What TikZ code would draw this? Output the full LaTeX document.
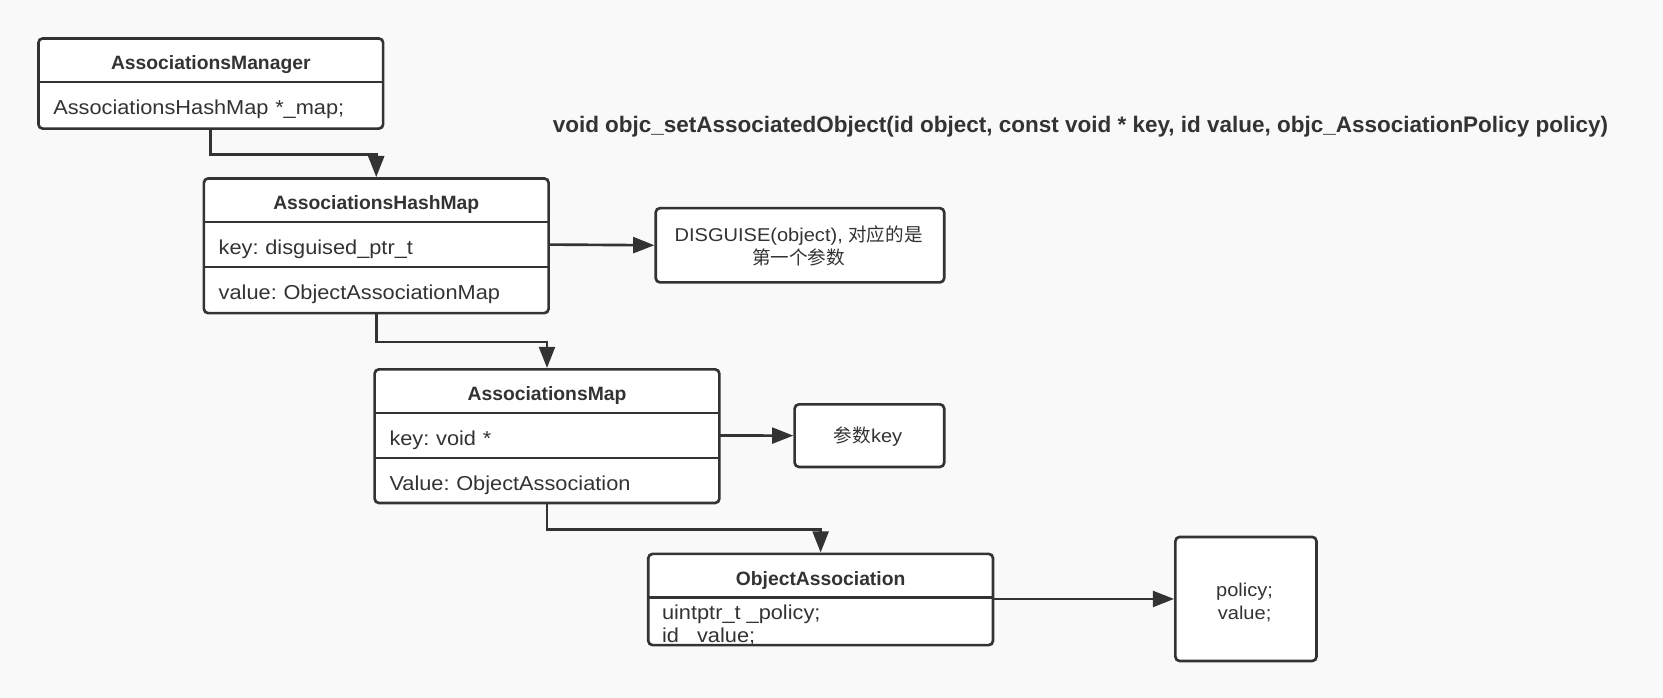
\documentclass[tikz,border=0pt]{standalone}
\usepackage{fontspec}
\setmainfont{Liberation Sans}[FakeStretch=1.08]
\newfontfamily\plainsans{Liberation Sans}
\newfontfamily\cjk{Noto Sans CJK SC}
\usetikzlibrary{arrows.meta,positioning}
\definecolor{ink}{HTML}{333333}
\definecolor{bgc}{HTML}{F9F9F9}
\tikzset{
  cls/.style={draw=ink, line width=2.5pt, rounded corners=4pt, fill=white, inner sep=0pt, minimum width=325pt, anchor=north west},
  row/.style={inner sep=0pt, minimum width=325pt, minimum height=42pt, text width=297pt, align=left, text=ink, text height=19.5pt, text depth=0pt, font=\fontsize{19}{22}\selectfont},
  hdr/.style={row, align=center, font=\plainsans\bfseries\fontsize{18.2}{22}\selectfont},
  divider/.style={draw=ink, line width=2.5pt},
  sidebox/.style={draw=ink, line width=2.5pt, rounded corners=4pt, fill=white, inner sep=0pt, anchor=north west},
  sidetext/.style={inner sep=0pt, anchor=base, text=ink, font=\fontsize{17.5}{21}\selectfont},
  conn/.style={draw=ink, line width=2.5pt, -{Triangle[length=20pt,width=15pt]}},
}
\begin{document}
\frenchspacing
\begin{tikzpicture}[x=1pt,y=-1pt]
\fill[bgc] (0,0) rectangle (1568,658);
\useasboundingbox (0,0) rectangle (1568,658);

% AssociationsManager
\node[cls, minimum height=85pt] (am) at (35,35) {};
\node[hdr, anchor=north] (amH) at (am.north) {AssociationsManager};
\node[row, below=0pt of amH] (amK) {AssociationsHashMap *\_map;};
\draw[divider] (amH.south west) -- (amH.south east);

% AssociationsHashMap
\node[cls, minimum height=127pt] (hm) at (191,167) {};
\node[hdr, anchor=north] (hmH) at (hm.north) {AssociationsHashMap};
\node[row, below=0pt of hmH] (hmK) {key: disguised\_ptr\_t};
\node[row, below=0pt of hmK] (hmV) {value: ObjectAssociationMap};
\draw[divider] (hmH.south west) -- (hmH.south east);
\draw[divider] (hmK.south west) -- (hmK.south east);

% AssociationsMap
\node[cls, minimum height=126pt] (mp) at (352,347) {};
\node[hdr, anchor=north] (mpH) at (mp.north) {AssociationsMap};
\node[row, below=0pt of mpH] (mpK) {key: void *};
\node[row, below=0pt of mpK] (mpV) {Value: ObjectAssociation};
\draw[divider] (mpH.south west) -- (mpH.south east);
\draw[divider] (mpK.south west) -- (mpK.south east);

% ObjectAssociation
\node[cls, minimum height=86pt] (oa) at (610,521) {};
\node[hdr, anchor=north] (oaH) at (oa.north) {ObjectAssociation};
\draw[divider] (oaH.south west) -- (oaH.south east);
\begin{scope}
\clip ([yshift=-1.25pt]oaH.south west) rectangle ([yshift=1.25pt]oa.south east);
\node[inner sep=0pt, text=ink, font=\fontsize{19}{22}\selectfont, anchor=base west] (oaP) at (624,584) {uintptr\_t \_policy;};
\node[inner sep=0pt, text=ink, font=\fontsize{19}{22}\selectfont, anchor=base west] (oaV) at (624,605.5) {id \_value;};
\end{scope}

% side boxes
\node[sidebox, minimum width=272pt, minimum height=70pt] (dis) at (617,195) {};
\node[sidetext] (disA) at (753,228) {DISGUISE(object), {\cjk 对应的是}};
\node[sidetext] (disB) at (753,249) {\cjk 第一个参数};
\node[sidebox, minimum width=141pt, minimum height=59pt] (pk) at (748,380) {};
\node[sidetext] (pkT) at (818.5,417) {{\cjk 参数}key};
\node[sidebox, minimum width=133pt, minimum height=117pt] (pol) at (1107,505) {};
\node[sidetext] (polA) at (1173.5,562.5) {policy;};
\node[sidetext] (polB) at (1173.5,584) {value;};

% title
\node[anchor=west, inner sep=0pt, text=ink, font=\plainsans\bfseries\fontsize{21.2}{25}\selectfont] (title) at (521,119) {void objc\_setAssociatedObject(id object, const void * key, id value, objc\_AssociationPolicy policy)};

% connectors
\draw[conn] (am.south) -- ++(0,23) -| (hm.north);
\draw[conn] (hm.south) -- ++(0,26) -| (mp.north);
\draw[conn] (mp.south) -- ++(0,24) -| (oa.north);
\draw[conn] (hmK.east) -- (dis.west);
\draw[conn] (mpK.east) -- (pk.west);
\draw[conn] (pol.west -| oa.east) -- (pol.west);
\end{tikzpicture}
\end{document}
